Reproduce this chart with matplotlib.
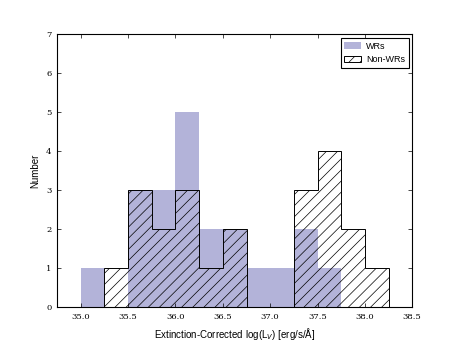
import matplotlib
matplotlib.use("Agg")
import matplotlib.pyplot as plt
import numpy as np

bin_edges = [35.0, 35.25, 35.5, 35.75, 36.0, 36.25, 36.5, 36.75, 37.0, 37.25, 37.5, 37.75, 38.0, 38.25]
wr_counts = [1, 0, 3, 3, 5, 2, 2, 1, 1, 2, 1, 0, 0]
nonwr_counts = [0, 1, 3, 2, 3, 1, 2, 0, 0, 3, 4, 2, 1]
xticks = [35.0, 35.5, 36.0, 36.5, 37.0, 37.5, 38.0, 38.5]
yticks = [0, 1, 2, 3, 4, 5, 6, 7]

plt.rcParams['hatch.linewidth'] = 0.5
fig = plt.figure(figsize=(4.57, 3.43), dpi=100)
ax = fig.add_axes([0.125, 0.105, 0.777, 0.795])

centers = np.array(bin_edges[:-1]) + 0.125
ax.hist(centers, bins=bin_edges, weights=wr_counts, color='#b3b3d9',
        edgecolor='none', label='WRs', histtype='stepfilled')
ax.hist(centers, bins=bin_edges, weights=nonwr_counts, histtype='step',
        hatch='///', edgecolor='black', fill=False, linewidth=0.7, label='Non-WRs')

ax.set_xlim(34.75, 38.5)
ax.set_ylim(0, 7)
ax.set_xticks(xticks)
ax.set_xticklabels([f"{t:.1f}" for t in xticks], family='DejaVu Serif', fontsize=6)
ax.set_yticks(yticks)
ax.set_yticklabels([str(t) for t in yticks], family='DejaVu Serif', fontsize=6)
ax.tick_params(direction='in', top=True, right=True, length=3, width=0.5, colors='black', pad=4)
for s in ax.spines.values():
    s.set_linewidth(0.8)

ax.set_xlabel(r"Extinction-Corrected log(L$_V$) [erg/s/Å]", family='Liberation Sans', fontsize=7)
ax.set_ylabel("Number", family='Liberation Sans', fontsize=7)

leg = ax.legend(loc='upper right', prop={'family': 'Liberation Sans', 'size': 6.5},
                fancybox=False, edgecolor='black', framealpha=1, handlelength=1.8,
                borderaxespad=0.4, handletextpad=0.6)
leg.get_frame().set_linewidth(0.8)

fig.savefig("out.png", dpi=100)
